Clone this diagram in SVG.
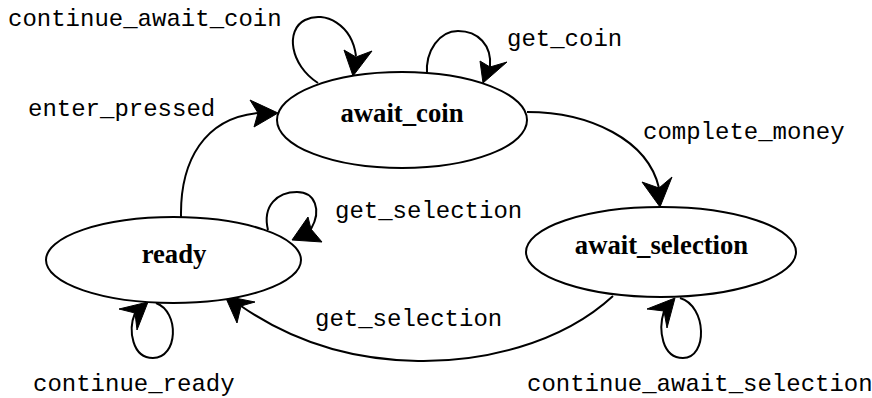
<svg xmlns="http://www.w3.org/2000/svg" width="872" height="398" viewBox="0 0 872 398">
<style>
.node ellipse{fill:#fff;stroke:#000;stroke-width:2}
.node text{font-family:"Liberation Serif","Times New Roman",serif;font-weight:bold;font-size:26.7px;text-anchor:middle;fill:#000}
.edge path{fill:none;stroke:#000;stroke-width:2}
.edge polygon{fill:#000;stroke:#000;stroke-width:1}
.lbl{font-family:"Liberation Mono","Courier New",monospace;font-size:24px;fill:#000}
</style>
<rect width="872" height="398" fill="#fff"/>
<g id="connectors">
  <g class="edge" id="e_continue_await_coin">
    <path d="M318,83 C290,65 285,30 305,20 C325,10 352,25 356,56"/>
    <polygon points="353,76 344,50 356,57 372,51"/>
  </g>
  <g class="edge" id="e_get_coin">
    <path d="M427,75 C425,50 440,31 458,31 C478,31 492,45 490,67"/>
    <polygon points="483,83 480,61 490,67 507,62"/>
  </g>
  <g class="edge" id="e_enter_pressed">
    <path d="M181,217 C180,160 205,118 258,113"/>
    <polygon points="278,113 250,100 258,113 254,127"/>
  </g>
  <g class="edge" id="e_complete_money">
    <path d="M527,112 C590,112 648,140 659,188"/>
    <polygon points="660,207 642,182 659,188 672,177"/>
  </g>
  <g class="edge" id="e_ready_get_selection">
    <path d="M268,230 C262,205 278,192 297,192 C315,192 322,210 311,229"/>
    <polygon points="292,240 308,217 311,229 322,242"/>
  </g>
  <g class="edge" id="e_get_selection">
    <path d="M613,296 C560,345 480,362 418,361 C350,360 290,340 241,306"/>
    <polygon points="225,296 255,302 241,306 237,323"/>
  </g>
  <g class="edge" id="e_continue_ready">
    <path d="M156,303 C180,312 178,358 153,358 C132,358 128,330 135,313"/>
    <polygon points="148,302 119,309 135,313 137,330"/>
  </g>
  <g class="edge" id="e_continue_await_selection">
    <path d="M680,298 C707,306 708,358 683,358 C662,358 658,330 664,311"/>
    <polygon points="675,298 647,309 664,311 667,328"/>
  </g>
  <text class="lbl" x="8" y="26">continue_await_coin</text>
  <text class="lbl" x="507" y="46">get_coin</text>
  <text class="lbl" x="28" y="116">enter_pressed</text>
  <text class="lbl" x="643" y="139">complete_money</text>
  <text class="lbl" x="335" y="218">get_selection</text>
  <text class="lbl" x="315" y="326">get_selection</text>
  <text class="lbl" x="33" y="391">continue_ready</text>
  <text class="lbl" x="527" y="391">continue_await_selection</text>
</g>
<g class="node" id="await_coin">
  <ellipse cx="402" cy="120" rx="125" ry="48"/>
  <text x="402" y="122">await_coin</text>
</g>
<g class="node" id="ready">
  <ellipse cx="173.5" cy="260" rx="127.5" ry="43"/>
  <text x="174" y="263">ready</text>
</g>
<g class="node" id="await_selection">
  <ellipse cx="661" cy="252" rx="135" ry="45"/>
  <text x="661.5" y="254">await_selection</text>
</g>
</svg>
